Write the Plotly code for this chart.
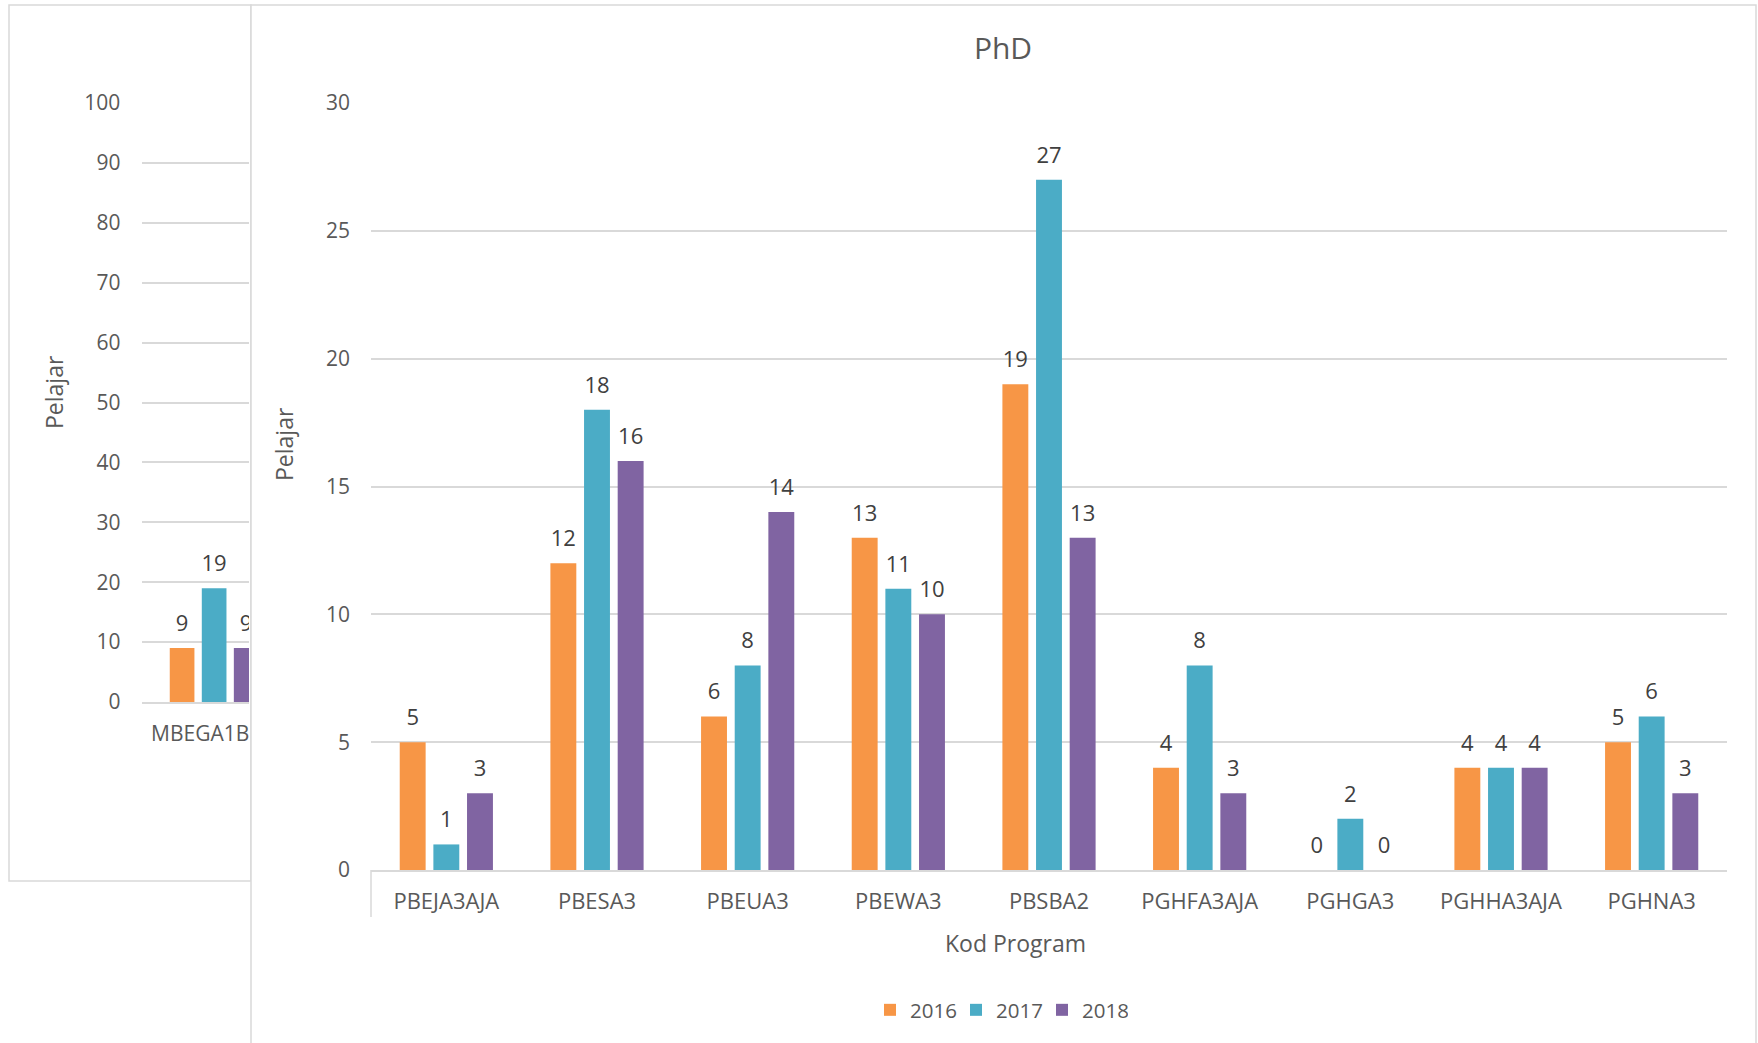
import plotly.graph_objects as go

# ---------------- data ----------------
categories = ["PBEJA3AJA", "PBESA3", "PBEUA3", "PBEWA3", "PBSBA2",
              "PGHFA3AJA", "PGHGA3", "PGHHA3AJA", "PGHNA3"]
y2016 = [5, 12, 6, 13, 19, 4, 0, 4, 5]
y2017 = [1, 18, 8, 11, 27, 8, 2, 4, 6]
y2018 = [3, 16, 14, 10, 13, 3, 0, 4, 3]

left_categories = ["MBEGA1B"]
left2016 = [9]
left2017 = [19]
left2018 = [9]

years = ["2016", "2017", "2018"]
colors = ["#F79646", "#4BACC6", "#8064A2"]

# ---------------- layout helpers ----------------
W, H = 1758, 1043
def px(x):
    return x / W
def py(y):
    return 1 - y / H

FONT = "Open Sans"
TICK_C = "#595959"
LABEL_C = "#404040"
GRID_C = "#D9D9D9"

fig = go.Figure()

main_series = [y2016, y2017, y2018]
left_series = [left2016, left2017, left2018]

for name, color, vals in zip(years, colors, main_series):
    fig.add_trace(go.Bar(x=categories, y=vals, name=name, marker_color=color,
                         marker_line_width=0, xaxis="x2", yaxis="y2",
                         hoverinfo="x+y+name"))
for name, color, vals in zip(years, colors, left_series):
    fig.add_trace(go.Bar(x=left_categories, y=vals, name=name, marker_color=color,
                         marker_line_width=0, xaxis="x", yaxis="y",
                         showlegend=False, hoverinfo="x+y+name"))

# data labels (grouped scatter text aligned with the bars)
LABEL_MARKER = 17
for name, color, vals in zip(years, colors, main_series):
    fig.add_trace(go.Scatter(x=categories, y=vals, mode="markers+text",
                             text=[str(v) for v in vals], textposition="top center",
                             textfont=dict(family=FONT, size=22, color=LABEL_C),
                             marker=dict(size=LABEL_MARKER, opacity=0, color=color),
                             xaxis="x2", yaxis="y2", showlegend=False,
                             hoverinfo="skip"))
for name, color, vals in zip(years, colors, left_series):
    fig.add_trace(go.Scatter(x=left_categories, y=vals, mode="markers+text",
                             text=[str(v) for v in vals], textposition="top center",
                             textfont=dict(family=FONT, size=22, color=LABEL_C),
                             marker=dict(size=LABEL_MARKER, opacity=0, color=color),
                             xaxis="x", yaxis="y", showlegend=False,
                             hoverinfo="skip"))

axis_common = dict(showgrid=True, gridcolor=GRID_C, gridwidth=1.5, zeroline=False,
                   tickfont=dict(family=FONT, size=21, color=TICK_C), ticks="",
                   automargin=False)

fig.update_layout(
    width=W, height=H,
    margin=dict(l=0, r=0, t=0, b=0, autoexpand=False),
    paper_bgcolor="white", plot_bgcolor="white",
    barmode="group", bargap=0.33, bargroupgap=0.23,
    scattermode="group", scattergap=0.33,
    font=dict(family=FONT, color=TICK_C),
    title=dict(text="PhD", x=px(1003), y=py(48), xanchor="center", yanchor="middle",
               font=dict(family=FONT, size=30, color=TICK_C)),
    xaxis=dict(domain=[px(142.4), px(249)], type="category", range=[-0.5, 0.243],
               showgrid=False, showline=True, linecolor=GRID_C, linewidth=1.5,
               ticks="", ticklabelstandoff=12, ticklabelshift=-14, automargin=False,
               tickfont=dict(family=FONT, size=21, color=TICK_C), anchor="y"),
    yaxis=dict(domain=[py(702), py(103)], range=[0, 100], dtick=10,
               ticklabelstandoff=21, anchor="x", **axis_common),
    xaxis2=dict(domain=[px(371), px(1727)], type="category", range=[-0.5, 8.5],
                showgrid=False, showline=True, linecolor=GRID_C, linewidth=1.5,
                ticks="", ticklabelstandoff=11, automargin=False,
                tickfont=dict(family=FONT, size=22, color=TICK_C), anchor="y2"),
    yaxis2=dict(domain=[py(870), py(103)], range=[0, 30], dtick=5,
                ticklabelstandoff=20, anchor="x2", **axis_common),
    legend=dict(orientation="h", x=px(870), y=py(1010), xanchor="left", yanchor="middle",
                font=dict(family=FONT, size=20.5, color=TICK_C), bgcolor="rgba(0,0,0,0)",
                traceorder="normal", entrywidth=41, entrywidthmode="pixels"),
    showlegend=True,
    shapes=[
        dict(type="rect", xref="paper", yref="paper", x0=px(9), x1=px(251),
             y0=py(881), y1=py(5), line=dict(color=GRID_C, width=1.5),
             fillcolor="white", layer="below"),
        dict(type="rect", xref="paper", yref="paper", x0=px(251), x1=px(1756),
             y0=py(1080), y1=py(5), line=dict(color=GRID_C, width=1.5),
             fillcolor="white", layer="below"),
        dict(type="line", xref="paper", yref="paper", x0=px(371), x1=px(371),
             y0=py(870), y1=py(917), line=dict(color=GRID_C, width=1.5)),
    ],
    annotations=[
        dict(text="Pelajar", xref="paper", yref="paper", x=px(54), y=py(392),
             showarrow=False, textangle=-90, xanchor="center", yanchor="middle",
             font=dict(family=FONT, size=23, color=TICK_C)),
        dict(text="Pelajar", xref="paper", yref="paper", x=px(284), y=py(444),
             showarrow=False, textangle=-90, xanchor="center", yanchor="middle",
             font=dict(family=FONT, size=23, color=TICK_C)),
        dict(text="Kod Program", xref="paper", yref="paper", x=px(1015), y=py(943),
             showarrow=False, xanchor="center", yanchor="middle",
             font=dict(family=FONT, size=23, color=TICK_C)),
    ],
)

fig.write_html("out.html", config={"displayModeBar": False},
               post_script="document.body.style.margin='0';document.body.style.overflow='hidden';")
